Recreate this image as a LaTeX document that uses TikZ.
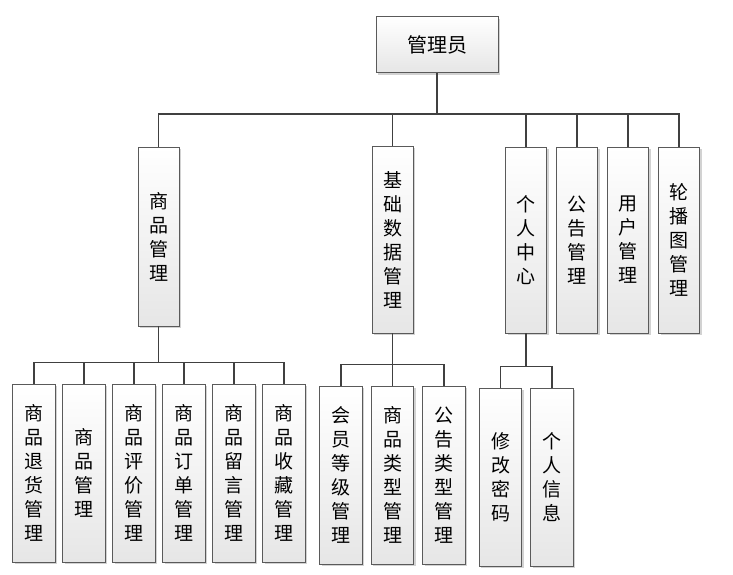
\documentclass[tikz,border=0pt]{standalone}
\usepackage{fontspec}
\newfontfamily\cjk{Noto Sans CJK SC}
\usetikzlibrary{shadows}
\definecolor{boxline}{HTML}{5A5A5A}
\definecolor{boxgray}{HTML}{E6E6E6}
\definecolor{linkgray}{HTML}{404040}

\begin{document}
\begin{tikzpicture}[x=1pt,y=-1pt,
    base node/.style={draw=boxline,line width=0.9pt,top color=white,bottom color=boxgray,
        drop shadow={shadow xshift=2pt,shadow yshift=-2pt,fill=black!35,opacity=0.5},
        inner sep=0pt,align=center,font=\cjk\fontsize{19}{24}\selectfont},
    top node/.style={base node,minimum width=122pt,minimum height=56pt,font=\cjk\fontsize{20}{24}\selectfont},
    menu node/.style={base node,minimum width=41pt,minimum height=186pt},
    leaf node/.style={base node,minimum width=42.5pt,minimum height=178pt},
    link/.style={draw=linkgray,line width=1.2pt}]
    \useasboundingbox (0,0) rectangle (733,574);

    \node[top node] (admin) at (437,44.5) {管理员};

    \node[menu node,minimum height=179pt] (goods) at (158.5,236.5) {商\\品\\管\\理};
    \node[menu node,minimum height=187pt] (basic) at (392.5,239.5) {基\\础\\数\\据\\管\\理};
    \node[menu node] (center) at (526,240) {个\\人\\中\\心};
    \node[menu node] (notice) at (577,240) {公\\告\\管\\理};
    \node[menu node] (user) at (628,240) {用\\户\\管\\理};
    \node[menu node] (banner) at (679,240) {轮\\播\\图\\管\\理};

    \node[leaf node] (refund) at (34,473) {商\\品\\退\\货\\管\\理};
    \node[leaf node] (goodsmgr) at (84,473) {商\\品\\管\\理};
    \node[leaf node] (review) at (134,473) {商\\品\\评\\价\\管\\理};
    \node[leaf node] (order) at (184,473) {商\\品\\订\\单\\管\\理};
    \node[leaf node] (message) at (234,473) {商\\品\\留\\言\\管\\理};
    \node[leaf node] (favorite) at (284,473) {商\\品\\收\\藏\\管\\理};

    \node[leaf node] (level) at (341,475) {会\\员\\等\\级\\管\\理};
    \node[leaf node] (goodstype) at (392.5,475) {商\\品\\类\\型\\管\\理};
    \node[leaf node] (noticetype) at (444,475) {公\\告\\类\\型\\管\\理};

    \node[leaf node] (password) at (500.5,477) {修\\改\\密\\码};
    \node[leaf node] (profile) at (552,477) {个\\人\\信\\息};

    % bus points under each parent
    \coordinate (hub0) at ([yshift=-41pt]admin.south);
    \coordinate (hub1) at ([yshift=-36pt]goods.south);
    \coordinate (hub2) at ([yshift=-31pt]basic.south);
    \coordinate (hub3) at ([yshift=-33pt]center.south);

    \draw[link] (admin) -- (hub0);
    \foreach \n in {goods,basic,center,notice,user,banner}
        \draw[link] (hub0) -| (\n);
    \draw[link] (goods) -- (hub1);
    \foreach \n in {refund,goodsmgr,review,order,message,favorite}
        \draw[link] (hub1) -| (\n);
    \draw[link] (basic) -- (hub2);
    \foreach \n in {level,goodstype,noticetype}
        \draw[link] (hub2) -| (\n);
    \draw[link] (center) -- (hub3);
    \foreach \n in {password,profile}
        \draw[link] (hub3) -| (\n);
\end{tikzpicture}
\end{document}
